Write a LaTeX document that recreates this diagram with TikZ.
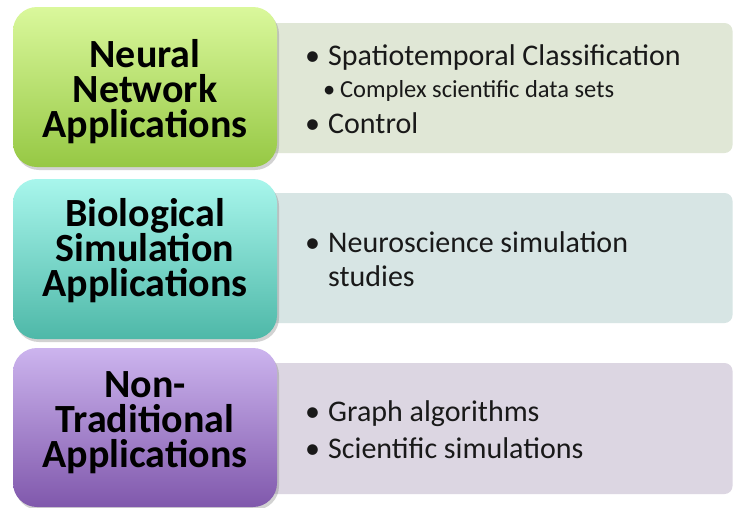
\documentclass[tikz,border=0pt]{standalone}
\usepackage{fontspec}
\setmainfont{Carlito}
\usetikzlibrary{shadows}
\definecolor{gtop}{RGB}{218,248,156}
\definecolor{gbot}{RGB}{150,200,68}
\definecolor{ttop}{RGB}{168,246,236}
\definecolor{tbot}{RGB}{78,184,168}
\definecolor{ptop}{RGB}{204,180,238}
\definecolor{pbot}{RGB}{128,88,172}
\definecolor{gpale}{RGB}{224,231,214}
\definecolor{tpale}{RGB}{215,229,228}
\definecolor{ppale}{RGB}{220,214,226}
\definecolor{txt}{RGB}{25,25,25}
\tikzset{
  lbox/.style={minimum width=264pt, minimum height=160pt, rounded corners=24pt,
    inner sep=0pt,
    drop shadow={shadow xshift=2pt, shadow yshift=-3pt, opacity=0.35}},
  head/.style={inner sep=0pt, align=center, text=black,
    font=\fontsize{40}{35}\selectfont\bfseries},
  rbox/.style={minimum width=471pt, minimum height=130pt, rounded corners=8pt, inner sep=0pt},
  item/.style={anchor=base west, inner sep=0pt, text=txt, font=\fontsize{30}{36}\selectfont},
  subitem/.style={anchor=base west, inner sep=0pt, text=txt, font=\fontsize{24.5}{29}\selectfont}
}
\newcommand{\bul}{\makebox[23pt][l]{•}}
\newcommand{\sbul}{\makebox[17pt][l]{•}}
\begin{document}
\begin{tikzpicture}[x=1pt,y=-1pt]
\useasboundingbox[fill=white] (0,0) rectangle (733,507);
% right panels
\node[rbox, fill=gpale] (r1) at (497,88) {};
\node[rbox, fill=tpale] (r2) at (497,258) {};
\node[rbox, fill=ppale, minimum height=131pt] (r3) at (497,428.5) {};
% left heading boxes
\node[lbox, top color=gtop, bottom color=gbot] (h1) at (145,87) {};
\node[lbox, top color=ttop, bottom color=tbot] (h2) at (145,259) {};
\node[lbox, top color=ptop, bottom color=pbot, minimum height=159pt] (h3) at (145,427.5) {};
\node[head] (t1) at (145,92) {Neural\\Network\\Applications};
\node[head] (t2) at (145,251) {Biological\\Simulation\\Applications};
\node[head] (t3) at (145,423) {Non-\\Traditional\\Applications};
% items
\node[item] (a1) at (305,65) {\bul Spatiotemporal Classification};
\node[subitem] (a2) at (323,97) {\sbul Complex scientific data sets};
\node[item] (a3) at (305,133) {\bul Control};
\node[item] (b1) at (305,252) {\bul Neuroscience simulation};
\node[item] (b2) at (328,286) {studies};
\node[item] (c1) at (305,421) {\bul Graph algorithms};
\node[item] (c2) at (305,458) {\bul Scientific simulations};
\end{tikzpicture}
\end{document}
